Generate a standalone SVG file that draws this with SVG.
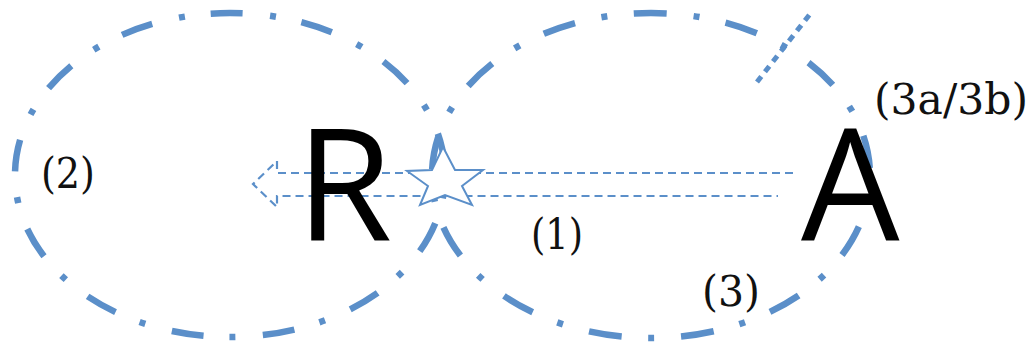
<svg xmlns="http://www.w3.org/2000/svg" width="1034" height="347" viewBox="0 0 1034 347">
<style>
.orbit{fill:none;stroke:#5b8fc9;stroke-width:6.5}
.arrow{fill:none;stroke:#5b8fc9;stroke-width:2.2;stroke-dasharray:8 5}
.big{font-family:"Open Sans","Liberation Sans",sans-serif;font-size:156px;fill:#000}
.lbl{font-family:"DejaVu Serif","Liberation Serif",serif;font-size:43px;fill:#111}
</style>
<rect width="1034" height="347" fill="#fff"/>
<g id="connectors">
<ellipse id="orbit-left" class="orbit" cx="230" cy="175" rx="215" ry="162" stroke-dasharray="32 27.5 6 26" stroke-dashoffset="42"/>
<ellipse id="orbit-right" class="orbit" cx="651" cy="175.5" rx="219" ry="162.5" stroke-dasharray="33 27 6 26.6" stroke-dashoffset="39.8"/>
<line x1="757" y1="82" x2="810" y2="14" stroke="#5b8fc9" stroke-width="5" stroke-dasharray="7 6"/>
<path class="arrow" d="M793,173 L277,173 L277,161 L253,184 L277,207 L277,196 L778,196"/>
</g>
<g id="node-R"><text class="big" x="296" y="240">R</text></g>
<g id="node-A"><text class="big" x="801" y="240">A</text></g>
<g id="star"><polygon points="443,147 455,170 483,170 462,186 472,205 445,195 420,205 428,186 407,171 432,170" fill="#fff" stroke="#5b8fc9" stroke-width="2" stroke-linejoin="miter"/></g>
<g id="labels">
<text class="lbl" x="41" y="188" textLength="54" lengthAdjust="spacingAndGlyphs">(2)</text>
<text class="lbl" x="531" y="249" textLength="52" lengthAdjust="spacingAndGlyphs">(1)</text>
<text class="lbl" x="702" y="306" textLength="58" lengthAdjust="spacingAndGlyphs">(3)</text>
<text class="lbl" x="874" y="114" textLength="154" lengthAdjust="spacingAndGlyphs">(3a/3b)</text>
</g>
</svg>
